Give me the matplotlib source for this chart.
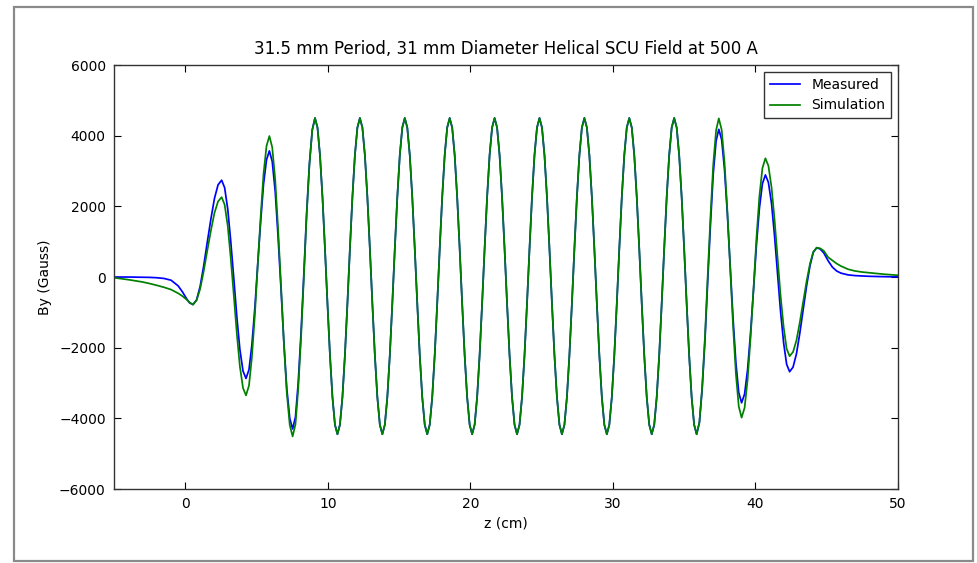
import matplotlib
matplotlib.use('Agg')
import matplotlib.pyplot as plt
from matplotlib.patches import Rectangle


z_cm = [
    -5.0, -4.0, -3.0, -2.5, -2.0, -1.5, -1.0, -0.5, -0.2, 0.1, 0.3,
    0.54, 0.79, 1.04, 1.29, 1.54, 1.80, 2.05, 2.30, 2.55,
    2.76, 2.98, 3.19, 3.41, 3.62, 3.83, 4.05, 4.26,
    4.47, 4.67, 4.88, 5.08, 5.29, 5.49, 5.70, 5.90,
    6.10, 6.31, 6.51, 6.72, 6.92, 7.12, 7.33, 7.53,
    7.73, 7.92, 8.12, 8.32, 8.51, 8.71, 8.91, 9.10,
    9.275, 9.45, 9.625, 9.8, 9.975, 10.15, 10.325, 10.5, 10.675,
    10.85, 11.025, 11.2, 11.375, 11.55, 11.725, 11.9, 12.075, 12.25,
    12.425, 12.6, 12.775, 12.95, 13.125, 13.3, 13.475, 13.65, 13.825,
    14.0, 14.175, 14.35, 14.525, 14.7, 14.875, 15.05, 15.225, 15.4,
    15.575, 15.75, 15.925, 16.1, 16.275, 16.45, 16.625, 16.8, 16.975,
    17.15, 17.325, 17.5, 17.675, 17.85, 18.025, 18.2, 18.375, 18.55,
    18.725, 18.9, 19.075, 19.25, 19.425, 19.6, 19.775, 19.95, 20.125,
    20.3, 20.475, 20.65, 20.825, 21.0, 21.175, 21.35, 21.525, 21.7,
    21.875, 22.05, 22.225, 22.4, 22.575, 22.75, 22.925, 23.1, 23.275,
    23.45, 23.625, 23.8, 23.975, 24.15, 24.325, 24.5, 24.675, 24.85,
    25.025, 25.2, 25.375, 25.55, 25.725, 25.9, 26.075, 26.25, 26.425,
    26.6, 26.775, 26.95, 27.125, 27.3, 27.475, 27.65, 27.825, 28.0,
    28.175, 28.35, 28.525, 28.7, 28.875, 29.05, 29.225, 29.4, 29.575,
    29.75, 29.925, 30.1, 30.275, 30.45, 30.625, 30.8, 30.975, 31.15,
    31.325, 31.5, 31.675, 31.85, 32.025, 32.2, 32.375, 32.55, 32.725,
    32.9, 33.075, 33.25, 33.425, 33.6, 33.775, 33.95, 34.125, 34.3,
    34.475, 34.65, 34.825, 35.0, 35.175, 35.35, 35.525, 35.7, 35.875,
    36.07, 36.26, 36.46, 36.65, 36.85, 37.04, 37.24, 37.43,
    37.63, 37.83, 38.03, 38.23, 38.43, 38.63, 38.83, 39.03,
    39.24, 39.45, 39.66, 39.87, 40.07, 40.28, 40.49, 40.70,
    40.91, 41.13, 41.34, 41.55, 41.76, 41.98, 42.19, 42.40,
    42.64, 42.88, 43.11, 43.35, 43.59, 43.83, 44.06, 44.30,
    44.55, 44.8, 45.1, 45.4, 45.7, 46.0, 46.5, 47.0, 47.5, 48.0, 49.0, 50.0,
]

# By (Gauss), measured
by_measured = [
    0, 0, -5, -10, -20, -40, -90, -250, -420, -620, -730,
    -780, -650, -270, 310, 980, 1650, 2230, 2610, 2740,
    2530, 1920, 1010, -70, -1140, -2050, -2660, -2870,
    -2620, -1930, -880, 350, 1580, 2630, 3320, 3570,
    3270, 2420, 1140, -370, -1870, -3150, -4000, -4300,
    -3960, -3010, -1580, 100, 1780, 3210, 4170, 4500,
    4230, 3450, 2260, 800, -750, -2210, -3400, -4180, -4450,
    -4180, -3400, -2210, -750, 800, 2260, 3450, 4230, 4500,
    4230, 3450, 2260, 800, -750, -2210, -3400, -4180, -4450,
    -4180, -3400, -2210, -750, 800, 2260, 3450, 4230, 4500,
    4230, 3450, 2260, 800, -750, -2210, -3400, -4180, -4450,
    -4180, -3400, -2210, -750, 800, 2260, 3450, 4230, 4500,
    4230, 3450, 2260, 800, -750, -2210, -3400, -4180, -4450,
    -4180, -3400, -2210, -750, 800, 2260, 3450, 4230, 4500,
    4230, 3450, 2260, 800, -750, -2210, -3400, -4180, -4450,
    -4180, -3400, -2210, -750, 800, 2260, 3450, 4230, 4500,
    4230, 3450, 2260, 800, -750, -2210, -3400, -4180, -4450,
    -4180, -3400, -2210, -750, 800, 2260, 3450, 4230, 4500,
    4230, 3450, 2260, 800, -750, -2210, -3400, -4180, -4450,
    -4180, -3400, -2210, -750, 800, 2260, 3450, 4230, 4500,
    4230, 3450, 2260, 800, -750, -2210, -3400, -4180, -4450,
    -4180, -3400, -2210, -750, 800, 2260, 3450, 4230, 4500,
    4230, 3450, 2260, 800, -750, -2210, -3400, -4180, -4450,
    -4120, -3190, -1790, -140, 1520, 2920, 3850, 4180,
    3890, 3050, 1790, 310, -1170, -2430, -3270, -3560,
    -3310, -2620, -1570, -340, 900, 1950, 2640, 2890,
    2680, 2080, 1170, 100, -960, -1870, -2470, -2680,
    -2550, -2170, -1600, -930, -250, 320, 700, 830,
    790, 680, 460, 280, 170, 110, 60, 40, 30, 20, 10, 5,
]

# By (Gauss), simulation
by_simulation = [
    -20, -75, -140, -185, -235, -290, -355, -460, -540, -640, -720,
    -780, -660, -340, 160, 740, 1320, 1820, 2140, 2260,
    2050, 1440, 530, -550, -1620, -2530, -3140, -3350,
    -3070, -2280, -1080, 320, 1720, 2920, 3710, 3990,
    3670, 2750, 1370, -260, -1890, -3270, -4190, -4510,
    -4170, -3190, -1730, 0, 1720, 3180, 4160, 4500,
    4230, 3450, 2260, 800, -750, -2210, -3400, -4180, -4450,
    -4180, -3400, -2210, -750, 800, 2260, 3450, 4230, 4500,
    4230, 3450, 2260, 800, -750, -2210, -3400, -4180, -4450,
    -4180, -3400, -2210, -750, 800, 2260, 3450, 4230, 4500,
    4230, 3450, 2260, 800, -750, -2210, -3400, -4180, -4450,
    -4180, -3400, -2210, -750, 800, 2260, 3450, 4230, 4500,
    4230, 3450, 2260, 800, -750, -2210, -3400, -4180, -4450,
    -4180, -3400, -2210, -750, 800, 2260, 3450, 4230, 4500,
    4230, 3450, 2260, 800, -750, -2210, -3400, -4180, -4450,
    -4180, -3400, -2210, -750, 800, 2260, 3450, 4230, 4500,
    4230, 3450, 2260, 800, -750, -2210, -3400, -4180, -4450,
    -4180, -3400, -2210, -750, 800, 2260, 3450, 4230, 4500,
    4230, 3450, 2260, 800, -750, -2210, -3400, -4180, -4450,
    -4180, -3400, -2210, -750, 800, 2260, 3450, 4230, 4500,
    4230, 3450, 2260, 800, -750, -2210, -3400, -4180, -4450,
    -4180, -3400, -2210, -750, 800, 2260, 3450, 4230, 4500,
    4230, 3450, 2260, 800, -750, -2210, -3400, -4180, -4450,
    -4110, -3140, -1690, 20, 1730, 3180, 4150, 4490,
    4170, 3250, 1880, 260, -1370, -2740, -3660, -3980,
    -3700, -2910, -1710, -310, 1090, 2290, 3080, 3360,
    3150, 2540, 1630, 560, -510, -1420, -2030, -2240,
    -2120, -1790, -1290, -710, -120, 380, 710, 830,
    810, 740, 560, 470, 380, 310, 220, 170, 140, 120, 80, 50,
]

x_ticks = [0, 10, 20, 30, 40, 50]
y_ticks = [-6000, -4000, -2000, 0, 2000, 4000, 6000]


def main():
    fig = plt.figure(figsize=(9.77, 5.63), dpi=100, facecolor='white')
    ax = fig.add_axes([0.1167, 0.1314, 0.8024, 0.7531])

    ax.plot(z_cm, by_measured, color='b', lw=1.25, label='Measured',
            solid_joinstyle='round')
    ax.plot(z_cm, by_simulation, color='g', lw=1.25, label='Simulation',
            solid_joinstyle='round')

    ax.set_xlim(-5, 50)
    ax.set_ylim(-6000, 6000)
    ax.set_xticks(x_ticks)
    ax.set_yticks(y_ticks)
    ax.tick_params(direction='in', top=True, right=True, length=5,
                   width=0.8, labelsize=10, pad=6)
    for sp in ax.spines.values():
        sp.set_linewidth(1.0)
        sp.set_color('#333333')

    ax.set_title('31.5 mm Period, 31 mm Diameter Helical SCU Field at 500 A',
                 fontsize=12, pad=8)
    ax.set_xlabel('z (cm)', fontsize=10)
    ax.set_ylabel('By (Gauss)', fontsize=10, labelpad=5)

    leg = ax.legend(loc='upper right', fontsize=10, fancybox=False,
                    framealpha=1, edgecolor='#333333', handlelength=2.2,
                    borderaxespad=0.5)
    leg.get_frame().set_linewidth(1.0)

    # grey screenshot frame around the figure
    frame = Rectangle((14 / 977, 2 / 563), 959 / 977, 554 / 563,
                      transform=fig.transFigure, fill=False,
                      edgecolor='#8a8a8a', lw=1.6)
    fig.add_artist(frame)

    fig.savefig('out.png', dpi=100, facecolor='white')


if __name__ == '__main__':
    main()
